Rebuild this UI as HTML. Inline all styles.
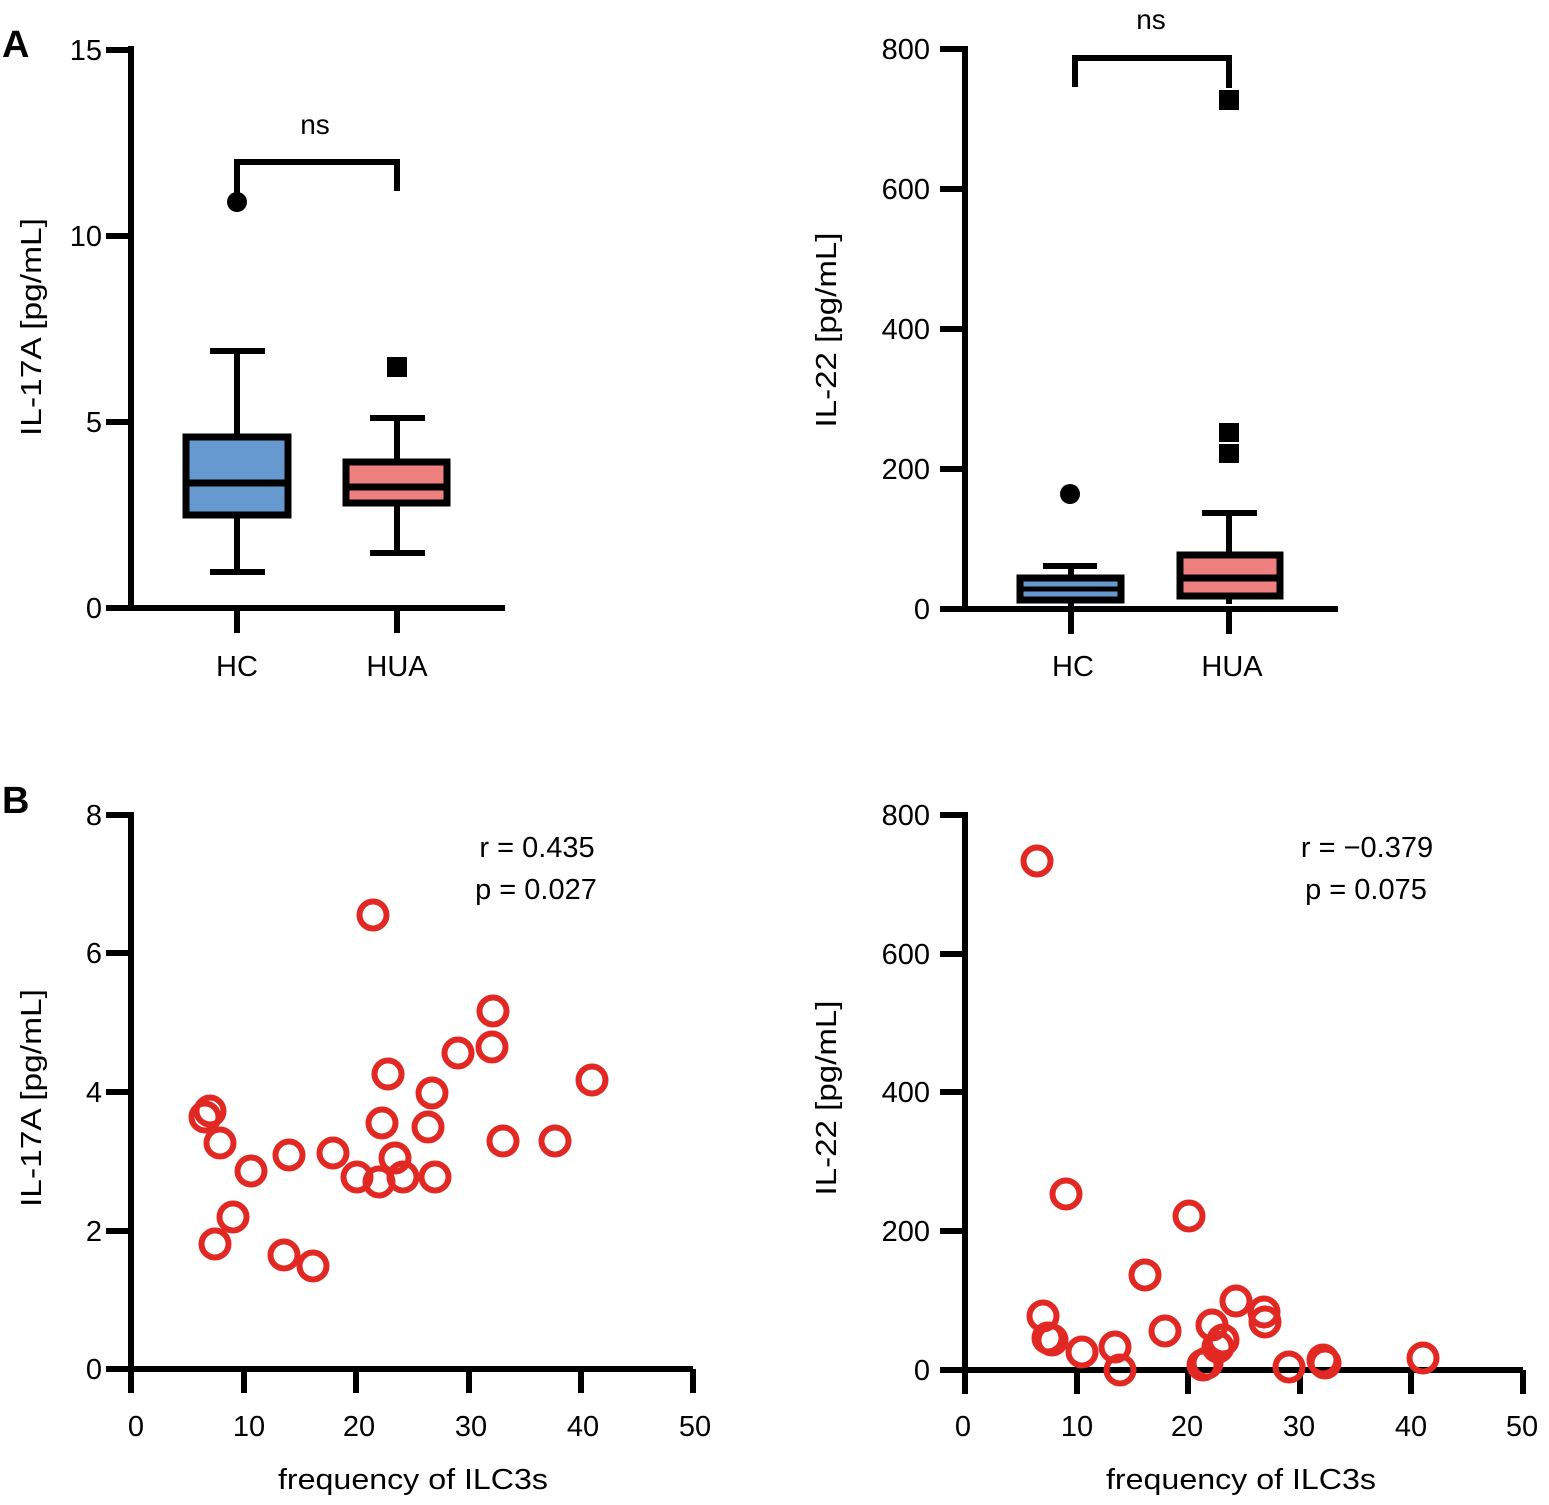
<!DOCTYPE html>
<html><head><meta charset="utf-8"><style>
html,body{margin:0;padding:0;background:#fff}
svg text{font-family:"Liberation Sans","DejaVu Sans",sans-serif;fill:#000}
</style></head><body>
<svg width="1549" height="1500" viewBox="0 0 1549 1500" xmlns="http://www.w3.org/2000/svg">
<g stroke="#000" stroke-width="6" fill="none" stroke-linecap="butt">
<!-- Panel A left axes -->
<path d="M131 46 V611"/>
<path d="M106 50 H131 M106 236 H131 M106 422 H131 M106 608 H131"/>
<path d="M128 608 H505"/>
<path d="M237 608 V633 M397 608 V633"/>
<!-- bracket -->
<path d="M237 195 V162 H397 V191"/>
<!-- HC box -->
<path d="M237 351 V437 M210 351 H265 M237 516 V572 M210 572 H265"/>
<path d="M397 418 V462 M370 418 H425 M397 504 V553 M370 553 H425"/>
</g>
<rect x="186" y="437" width="102" height="78" fill="#6699d0" stroke="#000" stroke-width="7"/>
<path d="M186 483 H288" stroke="#000" stroke-width="7"/>
<rect x="346" y="462" width="101" height="41" fill="#ef8080" stroke="#000" stroke-width="7"/>
<path d="M346 487 H447" stroke="#000" stroke-width="7"/>
<circle cx="237" cy="202" r="10" fill="#000"/>
<rect x="387" y="357" width="20" height="20" fill="#000"/>
<text x="315" y="134" font-size="28" text-anchor="middle">ns</text>
<g font-size="29" text-anchor="end">
<text x="102" y="60">15</text><text x="102" y="246">10</text><text x="102" y="432">5</text><text x="102" y="618">0</text>
</g>
<text x="237" y="676" font-size="29" text-anchor="middle">HC</text>
<text x="397" y="676" font-size="29" text-anchor="middle">HUA</text>
<text transform="translate(41,327) rotate(-90)" font-size="29" text-anchor="middle" textLength="218" lengthAdjust="spacingAndGlyphs">IL-17A [pg/mL]</text>
<text x="2" y="57" font-size="38" font-weight="bold">A</text>

<!-- Panel A right -->
<g stroke="#000" stroke-width="6" fill="none">
<path d="M965 46 V612"/>
<path d="M940 49 H965 M940 189 H965 M940 329 H965 M940 469 H965 M940 609 H965"/>
<path d="M962 609 H1338"/>
<path d="M1071 609 V634 M1229 609 V634"/>
<path d="M1075 87 V58 H1229 V88"/>
<path d="M1071 566 V577 M1043 566 H1097 M1071 601 V606"/>
<path d="M1229 513 V554 M1202 513 H1257 M1229 597 V604"/>
</g>
<rect x="1020" y="578" width="101" height="22" fill="#6699d0" stroke="#000" stroke-width="7"/>
<path d="M1020 589 H1121" stroke="#000" stroke-width="5"/>
<rect x="1180" y="555" width="100" height="41" fill="#ef8080" stroke="#000" stroke-width="7"/>
<path d="M1180 578 H1280" stroke="#000" stroke-width="7"/>
<circle cx="1070" cy="494" r="10" fill="#000"/>
<rect x="1219" y="90" width="20" height="20" fill="#000"/>
<rect x="1219" y="423" width="20" height="19" fill="#000"/>
<rect x="1219" y="444" width="20" height="19" fill="#000"/>
<text x="1151" y="29" font-size="28" text-anchor="middle">ns</text>
<g font-size="29" text-anchor="end">
<text x="930" y="59">800</text><text x="930" y="199">600</text><text x="930" y="339">400</text><text x="930" y="479">200</text><text x="930" y="619">0</text>
</g>
<text x="1073" y="676" font-size="29" text-anchor="middle">HC</text>
<text x="1232" y="676" font-size="29" text-anchor="middle">HUA</text>
<text transform="translate(836,330) rotate(-90)" font-size="29" text-anchor="middle" textLength="195" lengthAdjust="spacingAndGlyphs">IL-22 [pg/mL]</text>

<!-- Panel B left -->
<text x="2" y="813" font-size="38" font-weight="bold">B</text>
<g stroke="#000" stroke-width="6" fill="none">
<path d="M131 812 V1372"/>
<path d="M106 815 H131 M106 953 H131 M106 1092 H131 M106 1231 H131 M106 1369 H131"/>
<path d="M128 1369 H693"/>
<path d="M131 1369 V1393 M244 1369 V1393 M356 1369 V1393 M469 1369 V1393 M581 1369 V1393 M693 1369 V1393"/>
</g>
<g font-size="29" text-anchor="end">
<text x="102" y="825">8</text><text x="102" y="963">6</text><text x="102" y="1102">4</text><text x="102" y="1241">2</text><text x="102" y="1379">0</text>
</g>
<g font-size="29" text-anchor="middle">
<text x="136" y="1436">0</text><text x="249" y="1436">10</text><text x="359" y="1436">20</text><text x="471" y="1436">30</text><text x="583" y="1436">40</text><text x="695" y="1436">50</text>
</g>
<text x="413" y="1489" font-size="29" text-anchor="middle" textLength="270" lengthAdjust="spacingAndGlyphs">frequency of ILC3s</text>
<text transform="translate(41,1098) rotate(-90)" font-size="29" text-anchor="middle" textLength="218" lengthAdjust="spacingAndGlyphs">IL-17A [pg/mL]</text>
<text x="537" y="857" font-size="29" text-anchor="middle">r = 0.435</text>
<text x="536" y="899" font-size="29" text-anchor="middle">p = 0.027</text>
<g fill="none" stroke="#e22822" stroke-width="6">
<circle cx="373" cy="915" r="13.5"/><circle cx="493" cy="1011" r="13.5"/><circle cx="492" cy="1047" r="13.5"/><circle cx="458" cy="1053" r="13.5"/><circle cx="592" cy="1080" r="13.5"/><circle cx="388" cy="1074" r="13.5"/><circle cx="432" cy="1093" r="13.5"/><circle cx="210" cy="1111" r="13.5"/><circle cx="205" cy="1117" r="13.5"/><circle cx="220" cy="1143" r="13.5"/><circle cx="382" cy="1123" r="13.5"/><circle cx="428" cy="1127" r="13.5"/><circle cx="503" cy="1141" r="13.5"/><circle cx="555" cy="1141" r="13.5"/><circle cx="289" cy="1155" r="13.5"/><circle cx="333" cy="1153" r="13.5"/><circle cx="395" cy="1158" r="13.5"/><circle cx="251" cy="1171" r="13.5"/><circle cx="357" cy="1177" r="13.5"/><circle cx="379" cy="1182" r="13.5"/><circle cx="403" cy="1177" r="13.5"/><circle cx="435" cy="1177" r="13.5"/><circle cx="233" cy="1217" r="13.5"/><circle cx="215" cy="1244" r="13.5"/><circle cx="284" cy="1255" r="13.5"/><circle cx="313" cy="1266" r="13.5"/>
</g>

<!-- Panel B right -->
<g stroke="#000" stroke-width="6" fill="none">
<path d="M965 812 V1373"/>
<path d="M940 815 H965 M940 954 H965 M940 1092 H965 M940 1231 H965 M940 1370 H965"/>
<path d="M962 1370 H1523"/>
<path d="M965 1370 V1394 M1077 1370 V1394 M1188 1370 V1394 M1300 1370 V1394 M1411 1370 V1394 M1523 1370 V1394"/>
</g>
<g font-size="29" text-anchor="end">
<text x="930" y="825">800</text><text x="930" y="964">600</text><text x="930" y="1102">400</text><text x="930" y="1241">200</text><text x="930" y="1380">0</text>
</g>
<g font-size="29" text-anchor="middle">
<text x="963" y="1436">0</text><text x="1077" y="1436">10</text><text x="1187" y="1436">20</text><text x="1299" y="1436">30</text><text x="1411" y="1436">40</text><text x="1522" y="1436">50</text>
</g>
<text x="1241" y="1489" font-size="29" text-anchor="middle" textLength="270" lengthAdjust="spacingAndGlyphs">frequency of ILC3s</text>
<text transform="translate(836,1098) rotate(-90)" font-size="29" text-anchor="middle" textLength="195" lengthAdjust="spacingAndGlyphs">IL-22 [pg/mL]</text>
<text x="1367" y="857" font-size="29" text-anchor="middle">r = −0.379</text>
<text x="1366" y="899" font-size="29" text-anchor="middle">p = 0.075</text>
<g fill="none" stroke="#e22822" stroke-width="6">
<circle cx="1037" cy="861" r="13.5"/><circle cx="1066" cy="1194" r="13.5"/><circle cx="1189" cy="1216" r="13.5"/><circle cx="1145" cy="1275" r="13.5"/><circle cx="1043" cy="1316" r="13.5"/><circle cx="1048" cy="1338" r="13.5"/><circle cx="1052" cy="1340" r="13.5"/><circle cx="1082" cy="1352" r="13.5"/><circle cx="1115" cy="1347" r="13.5"/><circle cx="1120" cy="1370" r="13.5"/><circle cx="1165" cy="1331" r="13.5"/><circle cx="1212" cy="1325" r="13.5"/><circle cx="1236" cy="1301" r="13.5"/><circle cx="1264" cy="1312" r="13.5"/><circle cx="1265" cy="1322" r="13.5"/><circle cx="1223" cy="1340" r="13.5"/><circle cx="1218" cy="1347" r="13.5"/><circle cx="1207" cy="1363" r="13.5"/><circle cx="1203" cy="1365" r="13.5"/><circle cx="1289" cy="1367" r="13.5"/><circle cx="1323" cy="1360" r="13.5"/><circle cx="1325" cy="1363" r="13.5"/><circle cx="1423" cy="1358" r="13.5"/>
</g>
</svg>
</body></html>
